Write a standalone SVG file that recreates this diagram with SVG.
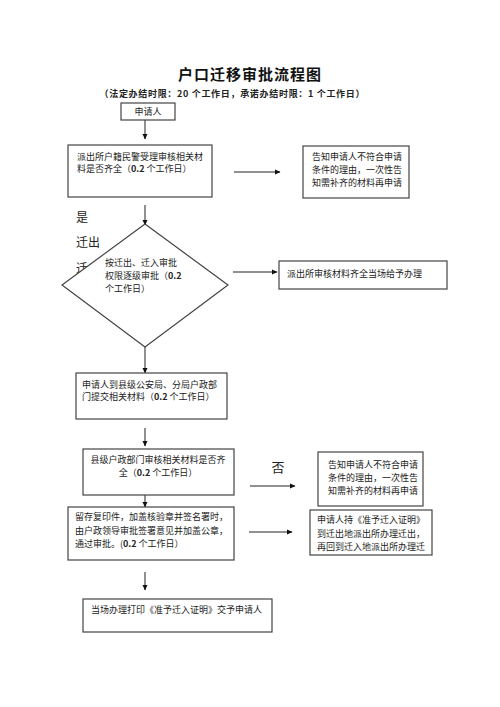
<svg xmlns="http://www.w3.org/2000/svg" width="500" height="707" viewBox="0 0 500 707">
<defs>
<marker id="ah" markerWidth="6" markerHeight="6" refX="5" refY="3" orient="auto" markerUnits="userSpaceOnUse">
<path d="M0,0.5 L5.5,3 L0,5.5 Z" fill="#111"/>
</marker>
<style>
.box{fill:#fff;stroke:#444;stroke-width:1.2}
.t{font-family:"Noto Sans CJK SC","Noto Sans",sans-serif;font-size:9px;fill:#222}
.c{stroke:#222;stroke-width:1;fill:none;marker-end:url(#ah)}
.b{font-weight:bold}
</style>
</defs>
<rect width="500" height="707" fill="#fff"/>
<g id="title">
<text x="250" y="80" text-anchor="middle" font-family="'Noto Sans CJK SC',sans-serif" font-size="15" font-weight="bold" fill="#111" letter-spacing="1">户口迁移审批流程图</text>
<text x="232" y="97" text-anchor="middle" class="t" font-weight="bold" textLength="265">（法定办结时限：20 个工作日，承诺办结时限：1 个工作日）</text>
</g>
<g id="side-labels">
<text x="76" y="222" class="t" style="font-size:12px">是</text>
<text x="76" y="247" class="t" style="font-size:12px">迁出</text>
<text x="76" y="273" class="t" style="font-size:12px">迁</text>
</g>
<g id="connectors">
<line x1="145" y1="120" x2="145" y2="139" class="c"/>
<line x1="234" y1="172" x2="280" y2="172" class="c"/>
<line x1="145" y1="205" x2="145" y2="225" class="c"/>
<line x1="233" y1="272" x2="277" y2="272" class="c"/>
<line x1="145" y1="347" x2="145" y2="373" class="c"/>
<line x1="145" y1="428" x2="145" y2="446" class="c"/>
<line x1="250" y1="486" x2="295" y2="486" class="c"/>
<line x1="145" y1="495" x2="145" y2="507" class="c"/>
<line x1="249" y1="532" x2="292" y2="532" class="c"/>
<line x1="145" y1="572" x2="145" y2="590" class="c"/>
</g>
<g id="n-applicant">
<rect x="121" y="103" width="54" height="17" class="box"/>
<text x="148" y="115" text-anchor="middle" class="t">申请人</text>
</g>
<g id="n-police-check">
<rect x="68" y="145" width="144" height="52" class="box"/>
<text x="77" y="160" class="t">派出所户籍民警受理审核相关材</text>
<text x="77" y="172" class="t">料是否齐全（<tspan class="b">0.2</tspan> 个工作日）</text>
</g>
<g id="n-notify1">
<rect x="303" y="146" width="106" height="52" class="box"/>
<text x="312" y="160" class="t">告知申请人不符合申请</text>
<text x="312" y="173" class="t">条件的理由，一次性告</text>
<text x="312" y="186" class="t">知需补齐的材料再申请</text>
</g>
<g id="n-diamond">
<polygon points="145,224 228,285 145,347 62,285" class="box"/>
<text x="105" y="266" class="t">按迁出、迁入审批</text>
<text x="105" y="279" class="t">权限逐级审批（<tspan class="b">0.2</tspan></text>
<text x="105" y="292" class="t">个工作日）</text>
</g>
<g id="n-handle">
<rect x="279" y="261" width="168" height="28" class="box"/>
<text x="287" y="277" class="t">派出所审核材料齐全当场给予办理</text>
</g>
<g id="n-submit">
<rect x="76" y="373" width="151" height="46" class="box"/>
<text x="82" y="388" class="t">申请人到县级公安局、分局户政部</text>
<text x="82" y="400" class="t">门提交相关材料（<tspan class="b">0.2</tspan> 个工作日）</text>
</g>
<g id="n-county-check">
<rect x="83" y="449" width="151" height="46" class="box"/>
<text x="158" y="463" text-anchor="middle" class="t">县级户政部门审核相关材料是否齐</text>
<text x="158" y="476" text-anchor="middle" class="t">全（<tspan class="b">0.2</tspan> 个工作日）</text>
<text x="278" y="472" text-anchor="middle" class="t" style="font-size:13px">否</text>
</g>
<g id="n-notify2">
<rect x="318" y="452" width="105" height="54" class="box"/>
<text x="328" y="468" class="t">告知申请人不符合申请</text>
<text x="328" y="481" class="t">条件的理由，一次性告</text>
<text x="328" y="494" class="t">知需补齐的材料再申请</text>
</g>
<g id="n-approve">
<rect x="68" y="507" width="166" height="53" class="box"/>
<text x="75" y="520" class="t">留存复印件，加盖核验章并签名署时，</text>
<text x="75" y="534" class="t">由户政领导审批签署意见并加盖公章，</text>
<text x="75" y="547" class="t">通过审批。(<tspan class="b">0.2</tspan> 个工作日）</text>
</g>
<g id="n-move">
<rect x="310" y="510" width="122" height="45" class="box"/>
<text x="317" y="523" class="t">申请人持《准予迁入证明》</text>
<text x="317" y="537" class="t">到迁出地派出所办理迁出，</text>
<text x="317" y="550" class="t">再回到迁入地派出所办理迁</text>
</g>
<g id="n-print">
<rect x="83" y="599" width="189" height="33" class="box"/>
<text x="91" y="613" class="t">当场办理打印《准予迁入证明》交予申请人</text>
</g>
</svg>
